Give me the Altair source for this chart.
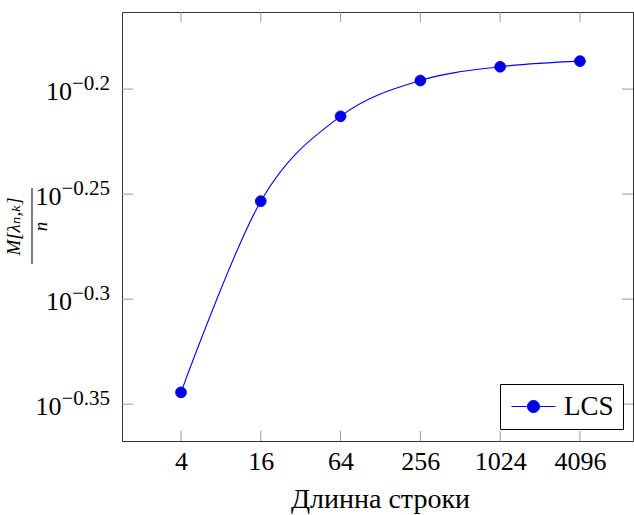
import altair as alt
import pandas as pd

# ---- data ----
lengths = [4, 16, 64, 256, 1024, 4096]
lcs_values = [0.4525, 0.5580, 0.6124, 0.6369, 0.6466, 0.6506]
series_names = ["LCS", "LCS", "LCS", "LCS", "LCS", "LCS"]

x_tick_values = [4, 16, 64, 256, 1024, 4096]
y_tick_exponents = ["−0.2", "−0.25", "−0.3", "−0.35"]
y_tick_powers = [-0.2, -0.25, -0.3, -0.35]

x_title = "Длинна строки"
y_title_lines = ["M[λₙ,ₖ]", "n"]

FONT = "Liberation Serif, DejaVu Serif, serif"
W, H = 511, 429

df = pd.DataFrame({"n": lengths, "v": lcs_values, "series": series_names})
xt = pd.DataFrame({"t": x_tick_values})
yt = pd.DataFrame({"p": y_tick_powers, "e": y_tick_exponents})
one = pd.DataFrame({"k": [0]})

x_scale = alt.Scale(type="log", base=2, domain=[1.435, 10296], nice=False)
y_scale = alt.Scale(type="log", base=10, domain=[0.4290, 0.6866], nice=False)

legend_symbol = ("M-2,0L2,0M-0.55,0A0.55,0.55,0,1,1,0.55,0"
                 "A0.55,0.55,0,1,1,-0.55,0Z")
leg = alt.Legend(
    title=None, orient="none", legendX=378, legendY=372,
    symbolType=legend_symbol, symbolSize=484, symbolStrokeWidth=1,
    symbolOffset=11,
    labelFont=FONT, labelFontSize=27, labelColor="black",
    strokeColor="black", fillColor="white", padding=9, labelOffset=17,
    cornerRadius=0,
)

line = alt.Chart(df).mark_line(
    interpolate="cardinal", color="#0000ff", strokeWidth=1.1
).encode(
    x=alt.X("n:Q", scale=x_scale, axis=alt.Axis(
        values=x_tick_values, format="d", ticks=False, domain=False, grid=False,
        labelFont=FONT, labelFontSize=26, labelColor="black", labelPadding=7,
        labelOverlap=False,
        title=x_title, titleFont=FONT, titleFontSize=28, titleFontWeight="normal",
        titleColor="black", titleY=66, titleX=258, titleBaseline="alphabetic")),
    y=alt.Y("v:Q", scale=y_scale, axis=alt.Axis(
        labels=False, ticks=False, domain=False, grid=False,
        title=y_title_lines, titleFont=FONT, titleFontSize=19,
        titleFontStyle="italic", titleFontWeight="normal", titleColor="black",
        titleAngle=270, titleX=-109, titleY=214, titleAlign="center",
        titleBaseline="middle", titleLineHeight=27)),
)

fraction_bar = alt.Chart(one).mark_rule(color="black", strokeWidth=1).encode(
    x=alt.value(-90), y=alt.value(176), y2=alt.value(252))

points = alt.Chart(df).mark_point(filled=True, size=115, strokeWidth=1, opacity=1).encode(
    x=alt.X("n:Q", scale=x_scale),
    y=alt.Y("v:Q", scale=y_scale),
    fill=alt.Fill("series:N", scale=alt.Scale(domain=["LCS"], range=["#0000e0"]), legend=leg),
    stroke=alt.Stroke("series:N", scale=alt.Scale(domain=["LCS"], range=["#0000ff"]), legend=leg),
)

tick_color = "#999999"
xt_top = alt.Chart(xt).mark_rule(color=tick_color, strokeWidth=1).encode(
    x=alt.X("t:Q", scale=x_scale), y=alt.value(0), y2=alt.value(10))
xt_bot = alt.Chart(xt).mark_rule(color=tick_color, strokeWidth=1).encode(
    x=alt.X("t:Q", scale=x_scale), y=alt.value(H - 10), y2=alt.value(H))

yt_base = alt.Chart(yt).transform_calculate(t="pow(10, datum.p)")
yt_left = yt_base.mark_rule(color=tick_color, strokeWidth=1).encode(
    y=alt.Y("t:Q", scale=y_scale), x=alt.value(0), x2=alt.value(11))
yt_right = yt_base.mark_rule(color=tick_color, strokeWidth=1).encode(
    y=alt.Y("t:Q", scale=y_scale), x=alt.value(W - 11), x2=alt.value(W))

exp_size = 21
tens = yt_base.transform_calculate(
    tx=f"-12 - {exp_size}*(0.564 + 0.25 + 0.5*(length(datum.e)-2))"
).mark_text(align="right", baseline="alphabetic", dy=11, font=FONT, fontSize=26,
            color="black").encode(
    x=alt.X("tx:Q", scale=None),
    y=alt.Y("t:Q", scale=y_scale),
    text=alt.value("10"))
exps = yt_base.mark_text(align="right", baseline="alphabetic", dy=1, font=FONT,
                         fontSize=exp_size, color="black").encode(
    x=alt.value(-12),
    y=alt.Y("t:Q", scale=y_scale),
    text="e:N")

chart = alt.layer(line, xt_top, xt_bot, yt_left, yt_right, points, tens, exps,
                  fraction_bar).properties(
    width=W, height=H,
    autosize=alt.AutoSizeParams(type="none"),
    padding={"left": 122, "top": 12, "right": 1, "bottom": 74},
).configure_view(stroke="#333333", strokeWidth=1)

chart.save("out.html", embed_options={"renderer": "svg", "actions": False})
